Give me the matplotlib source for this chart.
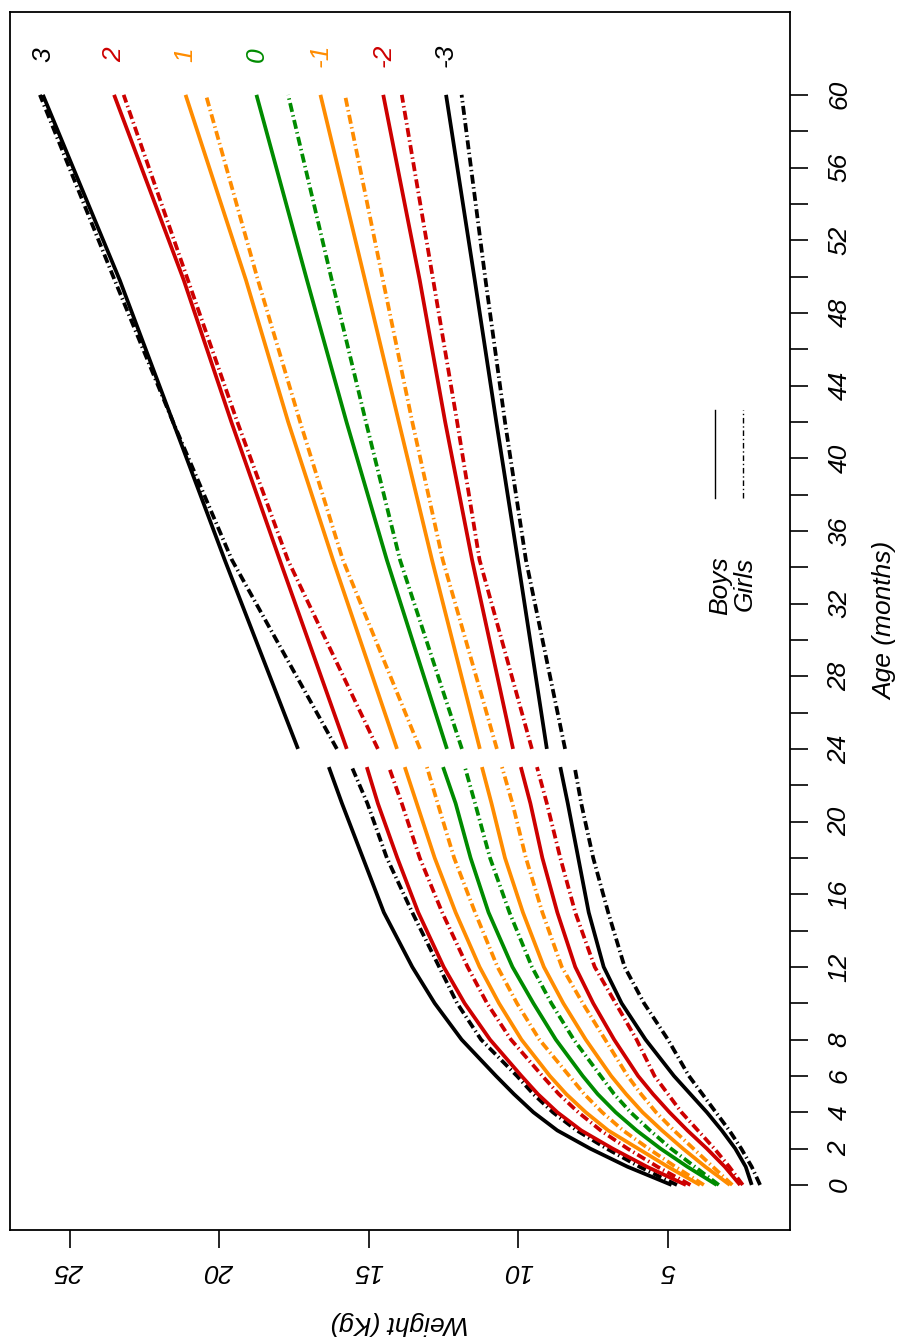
import numpy as np
import matplotlib
matplotlib.use('Agg')
import matplotlib.pyplot as plt

plt.rcParams['font.family'] = ['Liberation Sans', 'DejaVu Sans']
plt.rcParams['font.style'] = 'italic'
plt.rcParams['lines.scale_dashes'] = False

# z-score curves, order: +3, +2, +1, 0, -1, -2, -3
sd_labels = ['3', '2', '1', '0', '-1', '-2', '-3']
sd_colors = ['black', '#CD0000', '#FF8C00', '#008B00', '#FF8C00', '#CD0000', 'black']

# 0-23 months
age_young = [0, 1, 2, 3, 4, 5, 6, 8, 10, 12, 15, 18, 21, 23]
boys_young = [
    [4.88, 6.35, 7.6, 8.7, 9.5, 10.15, 10.75, 11.9, 12.8, 13.55, 14.5, 15.2, 15.9, 16.34],
    [4.40, 5.7, 6.85, 7.9, 8.7, 9.35, 9.9, 10.95, 11.8, 12.5, 13.35, 14.05, 14.7, 15.07],
    [3.93, 5.0, 6.0, 7.0, 7.75, 8.4, 8.95, 9.9, 10.65, 11.3, 12.1, 12.8, 13.4, 13.8],
    [3.37, 4.35, 5.25, 6.05, 6.75, 7.35, 7.85, 8.75, 9.5, 10.2, 11.0, 11.6, 12.1, 12.52],
    [2.93, 3.75, 4.5, 5.2, 5.85, 6.4, 6.9, 7.75, 8.5, 9.15, 9.85, 10.45, 10.9, 11.22],
    [2.59, 3.1, 3.7, 4.35, 4.95, 5.5, 6.0, 6.8, 7.5, 8.1, 8.7, 9.2, 9.6, 9.92],
    [2.20, 2.4, 2.75, 3.2, 3.7, 4.25, 4.8, 5.75, 6.55, 7.15, 7.65, 8.0, 8.35, 8.6],
]
girls_young = [
    [4.70, 5.95, 7.05, 8.05, 8.85, 9.5, 10.05, 11.25, 12.05, 12.65, 13.55, 14.4, 15.05, 15.57],
    [4.25, 5.35, 6.35, 7.25, 8.0, 8.65, 9.2, 10.25, 11.05, 11.7, 12.55, 13.3, 13.9, 14.33],
    [3.80, 4.75, 5.65, 6.5, 7.2, 7.8, 8.3, 9.3, 10.05, 10.7, 11.45, 12.15, 12.7, 13.06],
    [3.30, 4.1, 4.9, 5.6, 6.25, 6.8, 7.25, 8.15, 8.9, 9.55, 10.3, 10.95, 11.45, 11.79],
    [2.85, 3.5, 4.15, 4.8, 5.4, 5.9, 6.35, 7.1, 7.85, 8.55, 9.2, 9.75, 10.2, 10.55],
    [2.50, 2.95, 3.45, 4.0, 4.55, 5.0, 5.45, 6.05, 6.75, 7.45, 8.1, 8.6, 9.05, 9.38],
    [1.92, 2.2, 2.55, 2.95, 3.4, 3.85, 4.3, 5.0, 5.8, 6.45, 7.0, 7.5, 7.9, 8.12],
]

# 24-60 months
age_old = [24, 34.4, 42, 49.8, 60]
boys_old = [
    [17.37, 19.82, 21.55, 23.33, 25.9],
    [15.74, 17.98, 19.6, 21.19, 23.52],
    [14.06, 16.2, 17.7, 19.11, 21.13],
    [12.39, 14.4, 15.75, 17.07, 18.76],
    [11.29, 12.89, 14.0, 15.13, 16.62],
    [10.18, 11.55, 12.45, 13.3, 14.52],
    [9.05, 10.02, 10.74, 11.46, 12.42],
]
girls_old = [
    [16.07, 19.58, 21.55, 23.5, 26.0],
    [14.70, 17.71, 19.4, 21.05, 23.2],
    [13.29, 15.87, 17.3, 18.71, 20.45],
    [11.89, 13.96, 15.1, 16.24, 17.7],
    [10.72, 12.53, 13.55, 14.53, 15.8],
    [9.55, 11.3, 12.05, 12.85, 13.9],
    [8.44, 9.75, 10.45, 11.1, 11.9],
]

age_ticks = np.arange(0, 61, 2)
age_labels = [0, 2, 4, 6, 8] + list(range(12, 61, 4))
weight_ticks = [5, 10, 15, 20, 25]

W, H = 911, 1343
fig = plt.figure(figsize=(W / 100, H / 100), dpi=100)
ax = fig.add_axes([10 / W, 1 - 1230 / H, 780 / W, 1218 / H])

lw = 2.7
dd = (0, (6.5, 2.5, 1.0, 2.5))
for i in range(7):
    c = sd_colors[i]
    ax.plot(boys_young[i], age_young, color=c, lw=lw, solid_capstyle='butt')
    ax.plot(boys_old[i], age_old, color=c, lw=lw, solid_capstyle='butt')
    ax.plot(girls_young[i], age_young, color=c, lw=lw, linestyle=dd)
    ax.plot(girls_old[i], age_old, color=c, lw=lw, linestyle=dd)
    ax.text(boys_old[i][-1], 62.2, sd_labels[i], color=c, rotation=90,
            ha='center', va='center', fontsize=19)

# legend
ax.plot([0.904, 0.904], [0.601, 0.673], color='black', lw=1, transform=ax.transAxes)
ax.plot([0.940, 0.940], [0.601, 0.673], color='black', lw=1, linestyle=(0, (4, 2, 1, 2)),
        transform=ax.transAxes)
ax.text(0.910, 0.553, 'Boys', rotation=90, ha='center', va='top', fontsize=19,
        transform=ax.transAxes)
ax.text(0.942, 0.553, 'Girls', rotation=90, ha='center', va='top', fontsize=19,
        transform=ax.transAxes)

ax.set_xlim(27.0, 0.92)
ax.set_ylim(-2.48, 64.56)

ax.yaxis.tick_right()
ax.yaxis.set_label_position('right')
ax.set_yticks(age_ticks)
ax.set_yticklabels([str(a) if a in age_labels else '' for a in age_ticks])
ax.set_xticks(weight_ticks)
ax.set_xticklabels([str(w) for w in weight_ticks])
ax.tick_params(axis='both', direction='out', length=13, width=1.2, labelsize=19)
ax.tick_params(axis='y', pad=14)
ax.tick_params(axis='x', pad=8)
for lab in ax.get_yticklabels():
    lab.set_rotation(90)
    lab.set_va('center')
    lab.set_ha('left')
for lab in ax.get_xticklabels():
    lab.set_rotation(180)
    lab.set_va('top')
    lab.set_ha('center')

ax.set_ylabel('Age (months)', rotation=90, fontsize=19, labelpad=16)
ax.set_xlabel('Weight (Kg)', rotation=180, fontsize=19, labelpad=20)
for s in ax.spines.values():
    s.set_linewidth(1.3)

fig.savefig('out.png', dpi=100)
